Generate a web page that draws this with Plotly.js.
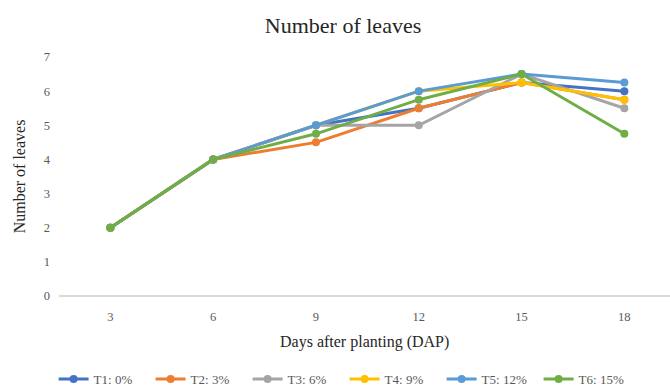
<!DOCTYPE html>
<html><head><meta charset="utf-8">
<script src="https://cdn.plot.ly/plotly-3.0.1.min.js"></script>
<style>body{margin:0;background:#fff}#c{width:670px;height:386px}</style>
</head><body><div id="c"></div>
<script>
const days = ["3","6","9","12","15","18"];
const names = ["T1: 0%","T2: 3%","T3: 6%","T4: 9%","T5: 12%","T6: 15%"];
const T1 = [2,4,5,5.5,6.25,6];
const T2 = [2,4,4.5,5.5,6.25,5.75];
const T3 = [2,4,5,5,6.5,5.5];
const T4 = [2,4,5,6,6.25,5.75];
const T5 = [2,4,5,6,6.5,6.25];
const T6 = [2,4,4.75,5.75,6.5,4.75];
const series = [T1,T2,T3,T4,T5,T6];
const colors = ["#4472C4","#ED7D31","#A5A5A5","#FFC000","#5B9BD5","#70AD47"];
const font = "'Liberation Serif', 'Times New Roman', serif";
const traces = series.map((s,i)=>({
  x: days, y: s, name: names[i], type:"scatter", mode:"lines+markers",
  line:{color:colors[i], width:3}, marker:{color:colors[i], size:8}
}));
Plotly.newPlot("c", traces, {
  width:670, height:386,
  margin:{l:59, r:0, t:57, b:90},
  paper_bgcolor:"#fff", plot_bgcolor:"#fff",
  font:{family:font, color:"#595959", size:12},
  title:{text:"Number of leaves", font:{family:font, size:22, color:"#262626"}, x:0.512, xref:"container", xanchor:"center", y:0.935, yanchor:"middle"},
  xaxis:{type:"category", range:[-0.5,5.444], showgrid:false, zeroline:false, showline:false, ticks:"", automargin:false,
    tickfont:{family:font, size:12.5, color:"#595959"}, ticklabelstandoff:11},
  yaxis:{range:[0,7], dtick:1, tick0:0, showgrid:false, zeroline:true, zerolinecolor:"#d9d9d9", zerolinewidth:1.3, showline:false, ticks:"", automargin:false,
    tickfont:{family:font, size:12.5, color:"#595959"}, ticklabelstandoff:8,
    title:{text:"Number of leaves", font:{family:font, size:16, color:"#262626"}, standoff:14}},
  annotations:[{text:"Days after planting (DAP)", xref:"paper", yref:"paper", x:0.5, y:0, yshift:-46, xanchor:"center", yanchor:"middle",
    showarrow:false, font:{family:font, size:16, color:"#262626"}}],
  showlegend:true,
  legend:{orientation:"h", xref:"container", x:0.08, xanchor:"left", y:0.018, yref:"container", yanchor:"middle",
    entrywidth:52, entrywidthmode:"pixels", font:{family:font, size:13, color:"#595959"}, itemwidth:30, tracegroupgap:0}
}, {displayModeBar:false, staticPlot:true});
</script></body></html>
